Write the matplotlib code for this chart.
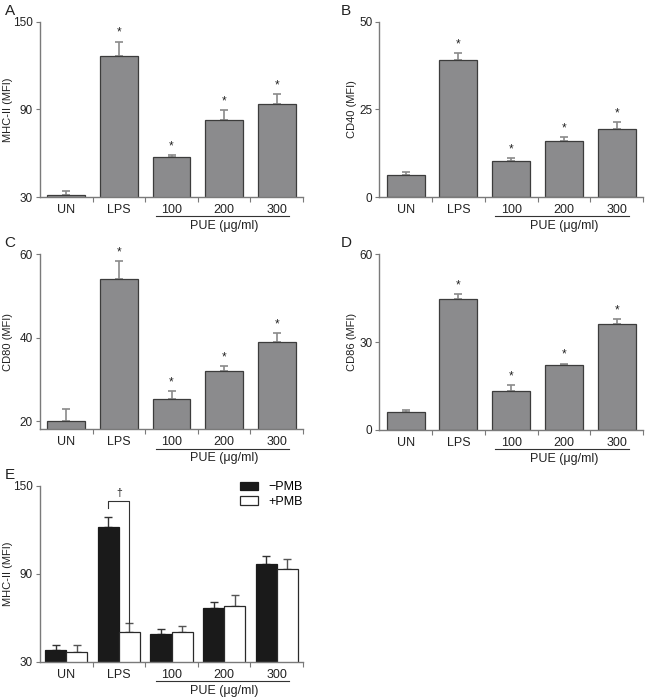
import matplotlib
matplotlib.use("Agg")
import matplotlib.pyplot as plt
import matplotlib.transforms as mtransforms
import numpy as np

plt.rcParams['font.family'] = ['Liberation Sans', 'DejaVu Sans']

categories = ["UN", "LPS", "100", "200", "300"]

mhc_mean = [31.6, 126.8, 57.1, 82.6, 93.6]
mhc_err = [2.3, 9.6, 1.8, 6.9, 6.8]
cd40_mean = [6.3, 39.0, 10.2, 16.0, 19.4]
cd40_err = [0.9, 2.0, 1.0, 1.1, 1.9]
cd80_mean = [20.0, 54.1, 25.3, 32.1, 38.9]
cd80_err = [3.0, 4.2, 1.9, 1.1, 2.2]
cd86_mean = [6.2, 44.6, 13.2, 22.2, 36.3]
cd86_err = [0.7, 1.8, 2.1, 0.5, 1.6]
star_flags = [False, True, True, True, True]

pmb_minus_mean = [38.0, 121.8, 48.9, 66.4, 96.5]
pmb_minus_err = [3.2, 7.3, 3.7, 4.1, 5.9]
pmb_plus_mean = [36.4, 50.0, 50.0, 68.0, 93.3]
pmb_plus_err = [4.8, 6.2, 4.1, 7.3, 7.1]

W, H = 646, 699
fig = plt.figure(figsize=(W / 100, H / 100), dpi=100)

def ax_at(x0, y_top, x1, y_bot):
    return fig.add_axes([x0 / W, 1 - y_bot / H, (x1 - x0) / W, (y_bot - y_top) / H])

BAR_C = '#8b8b8d'
EDGE_C = '#3c3c3c'
SPINE_C = '#7a7a7a'
TXT_C = '#222222'
FS = 8.5

def style(ax, ylim, yticks, ylabel, label_x):
    ax.set_xlim(-0.5, 4.5)
    ax.set_ylim(*ylim)
    ax.set_yticks(yticks)
    ax.set_yticklabels([str(t) for t in yticks], fontsize=FS, color=TXT_C)
    ax.spines['top'].set_visible(False)
    ax.spines['right'].set_visible(False)
    for s in ('left', 'bottom'):
        ax.spines[s].set_color(SPINE_C)
        ax.spines[s].set_linewidth(1.0)
    ax.tick_params(axis='y', length=3, width=0.8, color=SPINE_C, pad=2)
    ax.set_xticks([0.5, 1.5, 2.5, 3.5, 4.5])
    ax.set_xticklabels([])
    ax.tick_params(axis='x', length=3.5, width=0.8, color=SPINE_C)
    trans = mtransforms.blended_transform_factory(ax.transData, ax.transAxes)
    for i, c in enumerate(categories):
        ax.text(i, -0.075, c, transform=trans, ha='center', va='center',
                fontsize=FS + 0.5, color=TXT_C)
    ax.plot([1.7, 4.23], [-0.11, -0.11], transform=trans, color='#333333',
            lw=0.8, clip_on=False)
    ax.text(3.0, -0.165, "PUE (\u03bcg/ml)", transform=trans, ha='center',
            va='center', fontsize=FS + 0.5, color=TXT_C)
    ax.set_ylabel(ylabel, fontsize=8, color=TXT_C, va='center')
    ax.yaxis.set_label_coords(label_x, 0.5)

def letter(x, y, s):
    fig.text(x / W, 1 - y / H, s, fontsize=11, color=TXT_C, ha='center', va='center')

def single_panel(ax, means, errs, ylim, yticks, ylabel, label_x):
    x = np.arange(len(categories))
    ax.bar(x, means, width=0.72, color=BAR_C, edgecolor=EDGE_C, linewidth=0.9, zorder=2)
    ax.errorbar(x, means, yerr=[np.zeros(len(x)), errs], fmt='none',
                ecolor='#8a8a8a', elinewidth=1.2, capsize=3, capthick=1.2, zorder=1)
    for i in range(len(x)):
        if star_flags[i]:
            ax.annotate('*', (x[i], means[i] + errs[i]), xytext=(0, 2),
                        textcoords='offset points', ha='center', va='bottom',
                        fontsize=8.5, color=TXT_C)
    style(ax, ylim, yticks, ylabel, label_x)

axA = ax_at(40, 21.7, 303, 197)
single_panel(axA, mhc_mean, mhc_err, (30, 150), [30, 90, 150], "MHC-II (MFI)", -0.12)
axB = ax_at(379.3, 21.7, 643, 197)
single_panel(axB, cd40_mean, cd40_err, (0, 50), [0, 25, 50], "CD40 (MFI)", -0.104)
axC = ax_at(40, 254.3, 303, 429.3)
single_panel(axC, cd80_mean, cd80_err, (18.1, 60), [20, 40, 60], "CD80 (MFI)", -0.12)
axD = ax_at(379.3, 254.3, 643, 430)
single_panel(axD, cd86_mean, cd86_err, (0, 60), [0, 30, 60], "CD86 (MFI)", -0.104)

letter(10, 11, "A")
letter(346, 11, "B")
letter(10, 243, "C")
letter(346, 243, "D")
letter(10, 475, "E")

# Panel E
axE = ax_at(40, 486, 303, 661.7)
x = np.arange(len(categories))
bw = 0.4
axE.bar(x - bw / 2, pmb_minus_mean, width=bw, color='#1a1a1a', edgecolor='#1a1a1a',
        linewidth=0.9, zorder=2, label='\u2212PMB')
axE.bar(x + bw / 2, pmb_plus_mean, width=bw, color='white', edgecolor='#2a2a2a',
        linewidth=0.9, zorder=2, label='+PMB')
axE.errorbar(x - bw / 2, pmb_minus_mean, yerr=[np.zeros(5), pmb_minus_err], fmt='none',
             ecolor='#333333', elinewidth=1.0, capsize=3, capthick=1.0, zorder=1)
axE.errorbar(x + bw / 2, pmb_plus_mean, yerr=[np.zeros(5), pmb_plus_err], fmt='none',
             ecolor='#555555', elinewidth=1.0, capsize=3, capthick=1.0, zorder=1)
style(axE, (30, 150), [30, 90, 150], "MHC-II (MFI)", -0.12)
x_l, x_r = 1 - bw / 2, 1 + bw / 2
y_br = 139.8
axE.plot([x_l, x_l, x_r, x_r], [135.3, y_br, y_br, 56.5], color='#333333', lw=0.8)
axE.text(1, y_br + 2.0, '\u2020', ha='center', va='bottom', fontsize=7.5, color=TXT_C)
leg = axE.legend(loc='upper left', bbox_to_anchor=(0.74, 1.055), frameon=False,
                 fontsize=FS + 0.5, handlelength=1.5, handleheight=0.7,
                 handletextpad=0.8, labelspacing=0.2, borderaxespad=0)

fig.savefig("out.png", dpi=100)
